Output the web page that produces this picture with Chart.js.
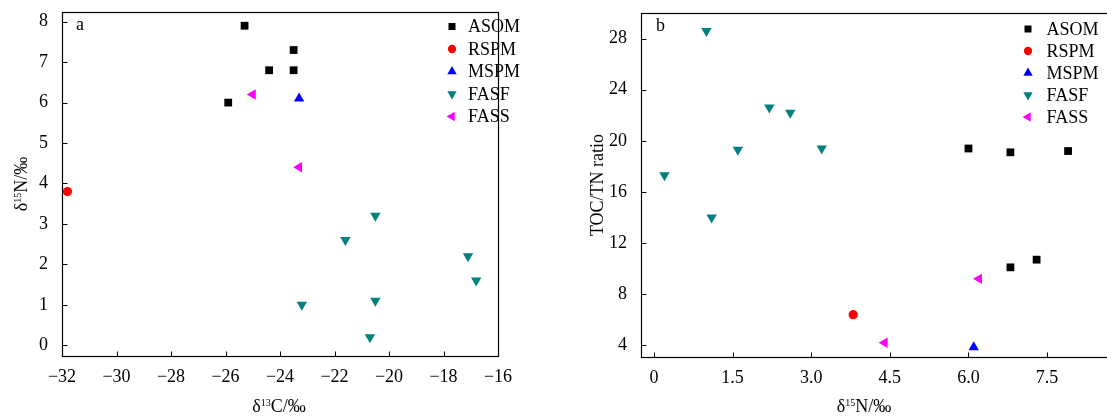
<!DOCTYPE html>
<html>
<head>
<meta charset="utf-8">
<script src="https://cdn.jsdelivr.net/npm/chart.js@4/dist/chart.umd.min.js"></script>
<style>
  html, body { margin:0; padding:0; background:#fff; width:1107px; height:417px; overflow:hidden; }
  .wrap { position:absolute; top:0; width:560px; height:417px; }
  #wa { left:0; }
  #wb { left:560px; }
</style>
</head>
<body>
<div class="wrap" id="wa"><canvas id="ca" width="560" height="417"></canvas></div>
<div class="wrap" id="wb"><canvas id="cb" width="560" height="417"></canvas></div>
<script>
// ---------------- DATA ----------------
const seriesNames = ['ASOM', 'RSPM', 'MSPM', 'FASF', 'FASS'];
// δ13C (‰)
const asomC = [-25.3, -23.5, -24.4, -23.5, -25.9];
const rspmC = [-31.8];
const mspmC = [-23.3];
const fasfC = [-20.5, -21.6, -17.1, -16.8, -23.2, -20.5, -20.7];
const fassC = [-25.0, -23.3];
// δ15N (‰)
const asomN = [7.9, 7.3, 6.8, 6.8, 6.0];
const rspmN = [3.8];
const mspmN = [6.1];
const fasfN = [3.2, 2.6, 2.2, 1.6, 1.0, 1.1, 0.2];
const fassN = [6.2, 4.4];
// TOC/TN ratio
const asomR = [19.2, 10.7, 19.1, 10.1, 19.4];
const rspmR = [6.4];
const mspmR = [3.85];
const fasfR = [19.4, 22.2, 22.6, 19.3, 28.6, 14.0, 17.3];
const fassR = [9.2, 4.2];
// tick labels
const aXTicks = [-32, -30, -28, -26, -24, -22, -20, -18, -16];
const aYTicks = [0, 1, 2, 3, 4, 5, 6, 7, 8];
const bXTicks = [0, 1.5, 3.0, 4.5, 6.0, 7.5];
const bXLabels = ['0', '1.5', '3.0', '4.5', '6.0', '7.5'];
const bYTicks = [4, 8, 12, 16, 20, 24, 28];

// ---------------- STYLE ----------------
const FONT = '"Liberation Serif", "Times New Roman", serif';
const styles = [
  { color: '#000000', pointStyle: 'rect', rotation: 0, radius: 5.5 },
  { color: '#ff0000', pointStyle: 'circle', rotation: 0, radius: 4.6 },
  { color: '#0000ff', pointStyle: 'triangle', rotation: 0, radius: 6 },
  { color: '#008080', pointStyle: 'triangle', rotation: 180, radius: 6 },
  { color: '#ff00ff', pointStyle: 'triangle', rotation: 270, radius: 6 }
];

function zip(xs, ys) { return xs.map((v, i) => ({ x: v, y: ys[i] })); }
function makeDatasets(pairs) {
  return pairs.map((p, i) => ({
    label: seriesNames[i],
    data: zip(p[0], p[1]),
    pointStyle: styles[i].pointStyle,
    rotation: styles[i].rotation,
    pointRadius: styles[i].radius,
    pointHoverRadius: styles[i].radius,
    backgroundColor: styles[i].color,
    borderColor: styles[i].color,
    borderWidth: 0,
    showLine: false,
    clip: false
  }));
}

const frameTicksPlugin = {
  id: 'frameTicks',
  afterDatasetsDraw(chart) {
    const { ctx, chartArea: a } = chart;
    const xs = chart.scales.x, ys = chart.scales.y;
    ctx.save();
    ctx.strokeStyle = '#000';
    ctx.lineWidth = 1.2;
    const L = Math.round(a.left) + 0.5, R = Math.round(a.right) + 0.5;
    const T = Math.round(a.top) + 0.5, B = Math.round(a.bottom) + 0.5;
    ctx.strokeRect(L, T, R - L, B - T);
    ctx.lineWidth = 1;
    ctx.beginPath();
    xs.ticks.forEach(t => {
      const px = Math.round(xs.getPixelForValue(t.value)) + 0.5;
      ctx.moveTo(px, B); ctx.lineTo(px, B - 5);
    });
    ys.ticks.forEach(t => {
      const py = Math.round(ys.getPixelForValue(t.value)) + 0.5;
      ctx.moveTo(L, py); ctx.lineTo(L + 5, py);
    });
    ctx.stroke();
    ctx.restore();
  }
};

// draws text with a superscript part; parts: [[text, isSup], ...]
function drawRich(ctx, parts, size, cx, cy) {
  const supSize = Math.round(size * 0.56);
  let w = 0;
  parts.forEach(p => { ctx.font = (p[1] ? supSize : size) + 'px ' + FONT; w += ctx.measureText(p[0]).width; });
  let x = cx - w / 2;
  ctx.textBaseline = 'alphabetic';
  ctx.textAlign = 'left';
  parts.forEach(p => {
    ctx.font = (p[1] ? supSize : size) + 'px ' + FONT;
    ctx.fillText(p[0], x, p[1] ? cy - size * 0.36 : cy);
    x += ctx.measureText(p[0]).width;
  });
}

const decorPlugin = {
  id: 'decor',
  afterDraw(chart, args, o) {
    const { ctx } = chart;
    ctx.save();
    ctx.fillStyle = '#000';
    // panel letter
    ctx.font = '18px ' + FONT;
    ctx.textAlign = 'left';
    ctx.textBaseline = 'middle';
    ctx.fillText(o.letter, o.letterX, o.letterY);
    // x title
    drawRich(ctx, o.xTitle, 18, o.xTitleX, o.xTitleY);
    // y title (rotated)
    ctx.save();
    ctx.translate(o.yTitleX, o.yTitleY);
    ctx.rotate(-Math.PI / 2);
    drawRich(ctx, o.yTitle, 18, 0, 0);
    ctx.restore();
    // legend
    chart.data.datasets.forEach((ds, i) => {
      const y = o.legY + i * o.legStep;
      ctx.fillStyle = ds.backgroundColor;
      ctx.strokeStyle = ds.backgroundColor;
      ctx.lineWidth = 0;
      Chart.helpers.drawPoint(ctx, {
        pointStyle: ds.pointStyle, rotation: ds.rotation,
        radius: ds.pointRadius * 0.9, borderWidth: 0
      }, o.legMarkerX, y);
      ctx.fillStyle = '#000';
      ctx.font = '18px ' + FONT;
      ctx.textAlign = 'left';
      ctx.textBaseline = 'middle';
      ctx.fillText(ds.label, o.legTextX, y + 1);
    });
    ctx.restore();
  }
};

function baseOptions(cfg) {
  return {
    responsive: false,
    animation: false,
    devicePixelRatio: 1,
    layout: { padding: cfg.padding },
    plugins: { legend: { display: false }, tooltip: { enabled: false }, decor: cfg.decor },
    scales: {
      x: {
        type: 'linear', min: cfg.xMin, max: cfg.xMax,
        afterBuildTicks: s => { s.ticks = cfg.xTicks.map(v => ({ value: v })); },
        afterFit: s => { s.height = cfg.xH; s.paddingLeft = 0; s.paddingRight = 0; },
        grid: { display: false, drawTicks: false },
        border: { display: false },
        ticks: { color: '#000', font: { family: FONT, size: 18 }, padding: 10, maxRotation: 0, autoSkip: false,
                 callback: cfg.xCb }
      },
      y: {
        type: 'linear', min: cfg.yMin, max: cfg.yMax,
        afterBuildTicks: s => { s.ticks = cfg.yTicks.map(v => ({ value: v })); },
        afterFit: s => { s.width = cfg.yW; s.paddingTop = 0; s.paddingBottom = 0; },
        grid: { display: false, drawTicks: false },
        border: { display: false },
        ticks: { color: '#000', font: { family: FONT, size: 18 }, padding: 14, autoSkip: false,
                 callback: v => String(v) }
      }
    }
  };
}

new Chart(document.getElementById('ca'), {
  type: 'scatter',
  data: { datasets: makeDatasets([[asomC, asomN], [rspmC, rspmN], [mspmC, mspmN], [fasfC, fasfN], [fassC, fassN]]) },
  options: baseOptions({
    padding: { top: 12, right: 62, left: 0, bottom: 0 },
    xMin: -32, xMax: -16, yMin: -0.265, yMax: 8.24,
    xTicks: aXTicks, yTicks: aYTicks, xH: 61, yW: 62,
    xCb: v => String(v).replace('-', '\u2212'),
    decor: {
      letter: 'a', letterX: 76, letterY: 25,
      xTitle: [['\u03b4', false], ['13', true], ['C/\u2030', false]], xTitleX: 279, xTitleY: 412,
      yTitle: [['\u03b4', false], ['15', true], ['N/\u2030', false]], yTitleX: 27, yTitleY: 184,
      legMarkerX: 452, legTextX: 468, legY: 26.5, legStep: 22.5
    }
  }),
  plugins: [frameTicksPlugin, decorPlugin]
});

new Chart(document.getElementById('cb'), {
  type: 'scatter',
  data: { datasets: makeDatasets([[asomN, asomR], [rspmN, rspmR], [mspmN, mspmR], [fasfN, fasfR], [fassN, fassR]]) },
  options: baseOptions({
    padding: { top: 13, right: 10, left: 0, bottom: 0 },
    xMin: -0.248, xMax: 8.70, yMin: 3.085, yMax: 30.0,
    xTicks: bXTicks, yTicks: bYTicks, xH: 60, yW: 81,
    xCb: (v, i) => bXLabels[i],
    decor: {
      letter: 'b', letterX: 96, letterY: 26,
      xTitle: [['\u03b4', false], ['15', true], ['N/\u2030', false]], xTitleX: 304, xTitleY: 412,
      yTitle: [['TOC/TN ratio', false]], yTitleX: 43, yTitleY: 185,
      legMarkerX: 468, legTextX: 486.5, legY: 29, legStep: 22
    }
  }),
  plugins: [frameTicksPlugin, decorPlugin]
});
</script>
</body>
</html>
